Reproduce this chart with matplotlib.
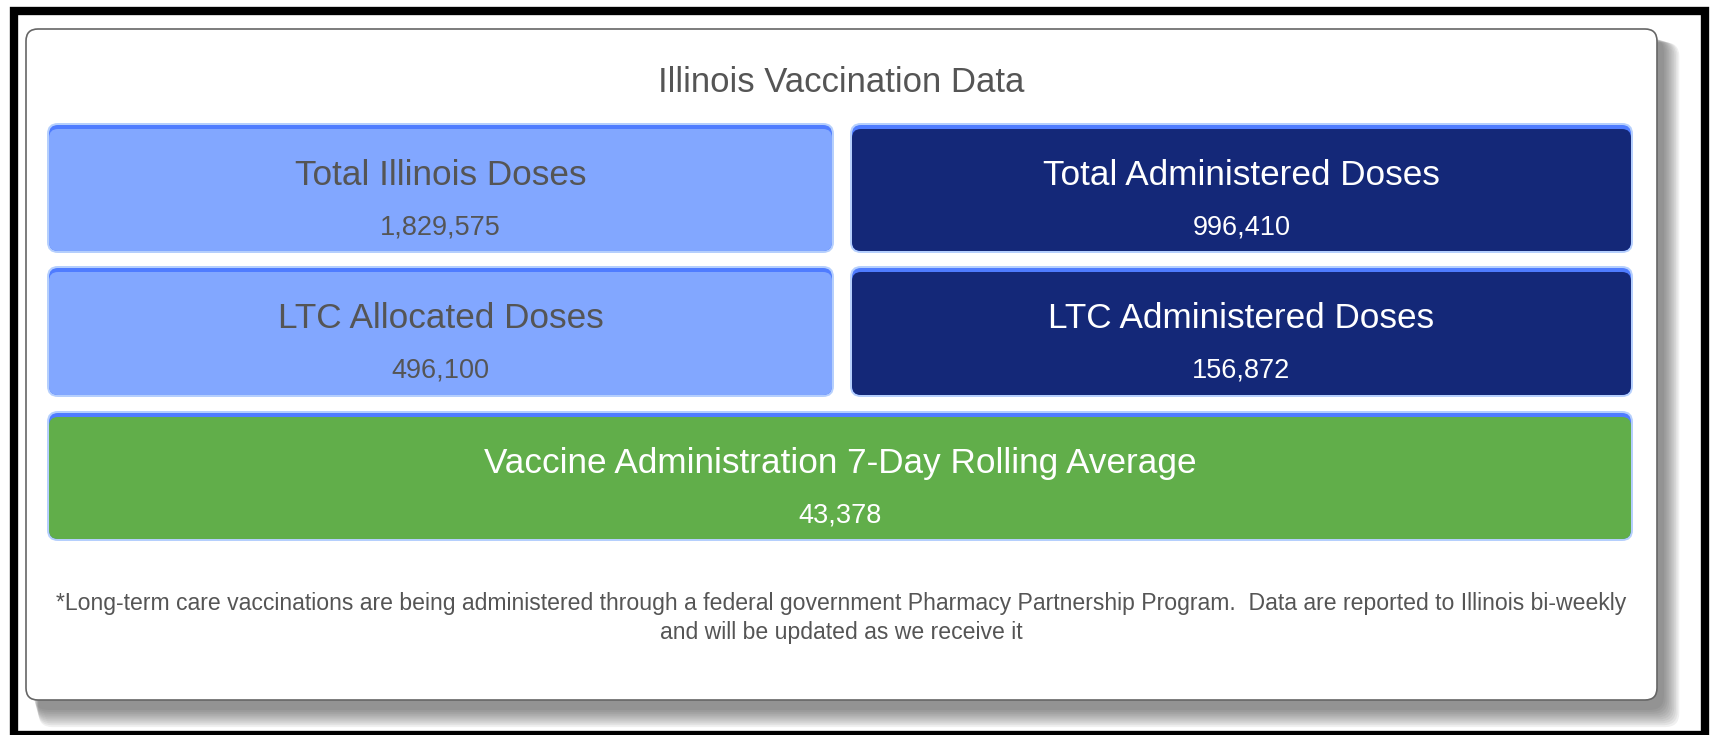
import matplotlib.pyplot as plt
from matplotlib.patches import FancyBboxPatch, Rectangle

plt.rcParams['font.family'] = ['Liberation Sans', 'DejaVu Sans']

title = "Illinois Vaccination Data"
labels = ["Total Illinois Doses", "Total Administered Doses",
          "LTC Allocated Doses", "LTC Administered Doses",
          "Vaccine Administration 7-Day Rolling Average"]
values = [1829575, 996410, 496100, 156872, 43378]
fills = ["#82a7ff", "#142878", "#82a7ff", "#142878", "#61ae4a"]
text_cols = ["#555555", "white", "#555555", "white", "white"]
note = ("*Long-term care vaccinations are being administered through a federal government "
        "Pharmacy Partnership Program.  Data are reported to Illinois bi-weekly\n"
        "and will be updated as we receive it")

W, H = 1713, 735
fig = plt.figure(figsize=(W / 100, H / 100), dpi=100)
ax = fig.add_axes([0, 0, 1, 1])
ax.set_xlim(0, W)
ax.set_ylim(H, 0)
ax.axis('off')

# black frame
ax.add_patch(Rectangle((13.5, 11), 1691, 724, fill=False, ec='black', lw=6))

# card shadow (soft, offset down-right)
for i in range(10):
    ax.add_patch(FancyBboxPatch((34 + i * 0.5, 38 + i * 0.5), 1630 + i * 1.2, 672 + i * 1.4,
                                boxstyle="round,pad=0,rounding_size=14",
                                fc='#444444', ec='none', alpha=0.08))
ax.add_patch(FancyBboxPatch((26, 29), 1631, 671, boxstyle="round,pad=0,rounding_size=12",
                            fc='white', ec='#666666', lw=1.2))

ax.text(841, 82, title, ha='center', va='center', fontsize=25, color='#555555')

# tile boxes (x0, y0, x1, y1)
boxes = [(49, 125, 832, 251), (852, 125, 1631, 251),
         (49, 268, 832, 395), (852, 268, 1631, 395),
         (49, 413, 1631, 539)]

for (x0, y0, x1, y1), lab, val, fc, tc in zip(boxes, labels, values, fills, text_cols):
    w, h = x1 - x0, y1 - y0
    # glow
    ax.add_patch(FancyBboxPatch((x0 - 2, y0 - 2), w + 4, h + 4,
                                boxstyle="round,pad=0,rounding_size=11",
                                fc='#b5cffd', ec='none'))
    # top blue edge
    ax.add_patch(FancyBboxPatch((x0, y0), w, h, boxstyle="round,pad=0,rounding_size=9",
                                fc='#4f7cff', ec='none'))
    ax.add_patch(FancyBboxPatch((x0, y0 + 4), w, h - 4, boxstyle="round,pad=0,rounding_size=9",
                                fc=fc, ec='none'))
    cx = (x0 + x1) / 2
    ax.text(cx, y0 + 50, lab, ha='center', va='center', fontsize=25.3, color=tc)
    ax.text(cx, y0 + 102, f"{val:,}", ha='center', va='center', fontsize=19.5, color=tc)

ax.text(841, 618, note, ha='center', va='center', fontsize=16.6, color='#555555',
        linespacing=1.3)

fig.savefig('out.png', dpi=100, facecolor='white')
